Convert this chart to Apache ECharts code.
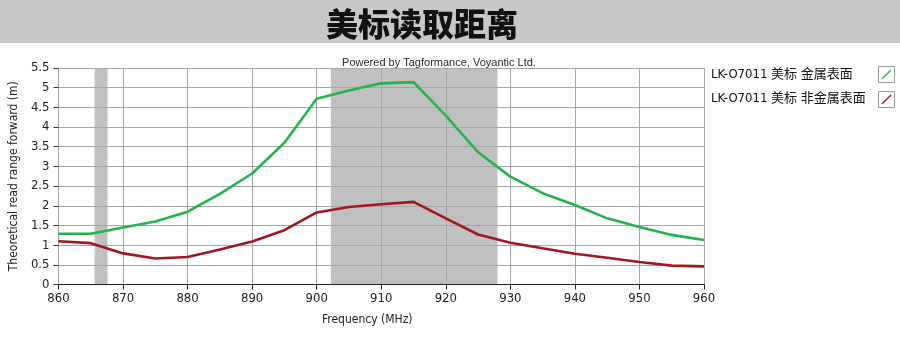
<!DOCTYPE html>
<html><head><meta charset="utf-8">
<script src="https://cdn.jsdelivr.net/npm/echarts@6/dist/echarts.min.js"></script>
<style>html,body{margin:0;padding:0;background:#fff}#c{width:900px;height:356px}</style>
</head><body><div id="c"></div>
<script>
const titleText = '美标读取距离';
const poweredText = 'Powered by Tagformance, Voyantic Ltd.';
const xAxisName = 'Frequency (MHz)';
const yAxisName = 'Theoretical read range forward (m)';
const seriesNames = ['LK-O7011 美标 金属表面', 'LK-O7011 美标 非金属表面'];
const freqMHz = [860, 865, 870, 875, 880, 885, 890, 895, 900, 905, 910, 915, 920, 925, 930, 935, 940, 945, 950, 955, 960];
const metalRange = [1.29, 1.29, 1.45, 1.60, 1.85, 2.30, 2.82, 3.60, 4.72, 4.93, 5.11, 5.14, 4.29, 3.36, 2.74, 2.32, 2.02, 1.68, 1.46, 1.26, 1.13];
const nonMetalRange = [1.10, 1.05, 0.79, 0.66, 0.70, 0.89, 1.09, 1.38, 1.83, 1.97, 2.04, 2.10, 1.68, 1.27, 1.06, 0.92, 0.78, 0.68, 0.57, 0.48, 0.46];
const bandRanges = [[865.6, 867.6], [902.2, 928.0]];
const xMin = 860, xMax = 960, xStep = 10;
const yMin = 0, yMax = 5.5, yStep = 0.5;

const colors = ['#25b34b', '#a3161f'];
const latin = "'DejaVu Sans Condensed', 'Noto Sans CJK SC', sans-serif";
const chart = echarts.init(document.getElementById('c'));
const pairs = vals => freqMHz.map((f, i) => [f, vals[i]]);

chart.setOption({
  animation: false,
  color: colors,
  title: {
    text: titleText, left: 417, top: 3, textAlign: 'center',
    textStyle: { fontSize: 32, fontWeight: 900, color: '#111', fontFamily: "'Noto Sans CJK SC', sans-serif" }
  },
  graphic: [
    { type: 'rect', z: -10, shape: { x: 0, y: 0, width: 900, height: 43 }, style: { fill: '#c8c8c8' } },
    { type: 'rect', shape: { x: 878.5, y: 66.5, width: 16, height: 16 }, style: { fill: 'none', stroke: '#9a9a9a', lineWidth: 1 } },
    { type: 'rect', shape: { x: 878.5, y: 91.5, width: 16, height: 16 }, style: { fill: 'none', stroke: '#9a9a9a', lineWidth: 1 } },
    { type: 'text', x: 439, y: 63, style: { text: poweredText, align: 'center', verticalAlign: 'middle', fontSize: 11, fill: '#2a2a2a', font: "11px " + latin } }
  ],
  legend: [
    {
      data: seriesNames, orient: 'vertical', left: 706, top: 67, padding: 0, icon: 'none',
      itemWidth: 0, itemHeight: 16, itemGap: 9,
      textStyle: { fontSize: 13, color: '#111', fontFamily: latin }
    },
    {
      data: seriesNames, orient: 'vertical', left: 881.5, top: 69.5, padding: 0,
      icon: 'path://M0,9 L9,0 L10,1 L1,10 Z',
      itemWidth: 10, itemHeight: 10, itemGap: 15,
      formatter: () => '',
      textStyle: { fontSize: 1 }
    }
  ],
  grid: { left: 58, right: 196, top: 68, bottom: 71.5, containLabel: false },
  xAxis: {
    type: 'value', min: xMin, max: xMax, interval: xStep, z: 3,
    axisLine: { show: true, onZero: false, lineStyle: { color: '#222', width: 1 } },
    axisTick: { show: true, length: 5, lineStyle: { color: '#222' } },
    axisLabel: { fontSize: 13, color: '#222', margin: 8, fontFamily: latin },
    splitLine: { show: true, lineStyle: { color: '#a6a6a6', width: 1 } },
    name: xAxisName, nameLocation: 'middle', nameGap: 29,
    nameTextStyle: { fontSize: 12, color: '#222', fontFamily: latin, padding: [0, 28, 0, 0] }
  },
  yAxis: {
    type: 'value', min: yMin, max: yMax, interval: yStep, z: 3,
    axisLine: { show: true, lineStyle: { color: '#a6a6a6', width: 1 } },
    axisTick: { show: true, length: 5, lineStyle: { color: '#333' } },
    axisLabel: { fontSize: 13, color: '#222', margin: 9, fontFamily: latin },
    splitLine: { show: true, lineStyle: { color: '#a6a6a6', width: 1 } },
    name: yAxisName, nameLocation: 'middle', nameRotate: 90, nameGap: 29,
    nameTextStyle: { fontSize: 12, color: '#222', fontFamily: latin }
  },
  series: [
    {
      name: seriesNames[0], type: 'line', data: pairs(metalRange), symbol: 'none',
      lineStyle: { width: 2.6, color: colors[0] }, z: 5,
      markArea: {
        z: 1, silent: true,
        itemStyle: { color: '#c0c0c0', opacity: 1 },
        data: bandRanges.map(b => [{ xAxis: b[0] }, { xAxis: b[1] }])
      }
    },
    {
      name: seriesNames[1], type: 'line', data: pairs(nonMetalRange), symbol: 'none',
      lineStyle: { width: 2.6, color: colors[1] }, z: 5
    }
  ]
});
</script></body></html>
